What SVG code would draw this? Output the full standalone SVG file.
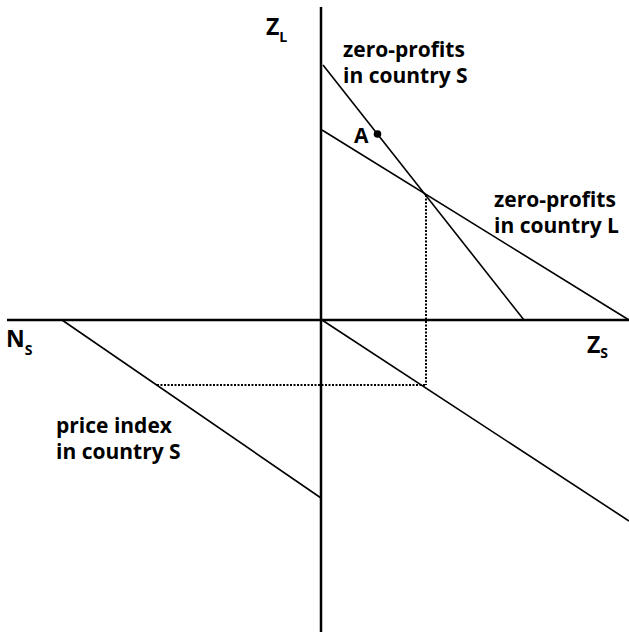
<svg xmlns="http://www.w3.org/2000/svg" width="629" height="632" viewBox="0 0 629 632">
<style>
.axis{stroke:#000;stroke-width:2.5;fill:none}
.ln{stroke:#000;stroke-width:1.6;fill:none}
.dot{stroke:#000;stroke-width:2;fill:none;stroke-dasharray:2 1.5}
text{font-family:"Open Sans","DejaVu Sans",sans-serif;font-weight:700;fill:#000}
.lab{font-size:21px}
.ax{font-size:23px}
.sub{font-size:14px}
</style>
<rect width="629" height="632" fill="#fff"/>
<g id="connectors">
<line class="axis" x1="321" y1="7" x2="321" y2="632"/>
<line class="axis" x1="7" y1="320" x2="629" y2="320"/>
<line class="ln" x1="323" y1="65" x2="524" y2="320"/>
<line class="ln" x1="322" y1="130" x2="629" y2="320"/>
<line class="ln" x1="62" y1="320" x2="321" y2="498"/>
<line class="ln" x1="322" y1="320" x2="629" y2="521"/>
<line class="dot" x1="426" y1="195" x2="426" y2="385"/>
<line class="dot" x1="157" y1="385" x2="426" y2="385"/>
</g>
<g id="axis-ZL"><text class="ax" x="266" y="35">Z<tspan class="sub" dy="7">L</tspan></text></g>
<g id="axis-NS"><text class="ax" x="6" y="347">N<tspan class="sub" dy="8">S</tspan></text></g>
<g id="axis-ZS"><text class="ax" x="587" y="353">Z<tspan class="sub" dy="5">S</tspan></text></g>
<g id="zp-S"><text class="lab" x="343" y="57">zero-profits</text><text class="lab" x="343" y="83">in country S</text></g>
<g id="zp-L"><text class="lab" x="494" y="207">zero-profits</text><text class="lab" x="494" y="233">in country L</text></g>
<g id="price-S"><text class="lab" x="56" y="433">price index</text><text class="lab" x="56" y="459">in country S</text></g>
<g id="point-A"><circle cx="377.5" cy="134" r="3.8" fill="#000"/><text class="lab" x="354" y="143">A</text></g>
</svg>
